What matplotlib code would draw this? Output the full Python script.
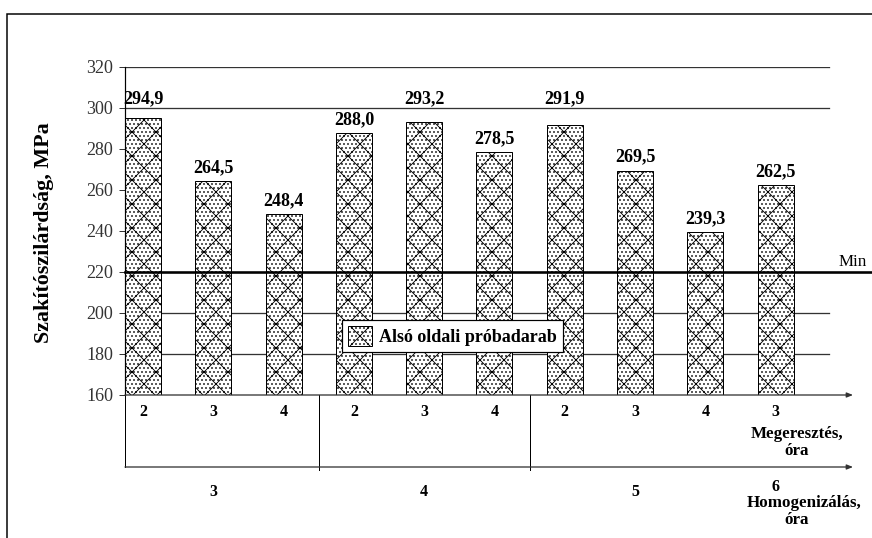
import matplotlib
matplotlib.use("Agg")
import matplotlib.pyplot as plt
from matplotlib.patches import Rectangle, Patch

# ---- data ----
megeresztes = ["2", "3", "4", "2", "3", "4", "2", "3", "4", "3"]
homogen_labels = ["3", "4", "5", "6"]
homogen_sizes = [3, 3, 3, 1]
values = [294.9, 264.5, 248.4, 288.0, 293.2, 278.5, 291.9, 269.5, 239.3, 262.5]
value_labels = ["294,9", "264,5", "248,4", "288,0", "293,2", "278,5",
                "291,9", "269,5", "239,3", "262,5"]
yticks = [160, 180, 200, 220, 240, 260, 280, 300, 320]
grid_values = [180, 200, 300, 320]
min_value = 220
legend_label = "Alsó oldali próbadarab"
ylabel = "Szakítószilárdság, MPa"

W, H, DPI = 872, 538, 72
plt.rcParams["font.family"] = ["Liberation Serif", "DejaVu Serif"]
plt.rcParams["hatch.linewidth"] = 0.9
plt.rcParams["hatch.color"] = "black"
HATCH = "x..."

fig = plt.figure(figsize=(W / DPI, H / DPI), dpi=DPI)
fig.patch.set_facecolor("white")

ax_left, ax_right, ax_top, ax_bot = 125, 872, 67, 395
ax = fig.add_axes([ax_left / W, 1 - ax_bot / H, (ax_right - ax_left) / W, (ax_bot - ax_top) / H])
ax.set_facecolor("none")

n = len(values)
x = list(range(n))
xmin, xmax = -0.256, 10.37
ax.set_xlim(xmin, xmax)
ax.set_ylim(160, 320)

grid_end = 9.76
arrow_end = 10.1

# gridlines
for g in grid_values:
    ax.plot([xmin, grid_end], [g, g], color="#333333", lw=1.3, zorder=1)

bars = ax.bar(x, values, width=0.512, color="white", edgecolor="black",
              hatch=HATCH, linewidth=1.0, zorder=2)

# min line
ax.plot([xmin, xmax], [min_value, min_value], color="black", lw=2.6, zorder=3, clip_on=False)
ax.text(9.9, min_value + 1.0, "Min", fontsize=17, ha="left", va="bottom", zorder=4)

# value labels
for xi, v, lab in zip(x, values, value_labels):
    ly = v + 6.5 if v + 6.5 < 297 else 304.5
    ax.text(xi, ly, lab, ha="center", va="center", fontsize=18, fontweight="bold", zorder=4)

# axes styling
for s in ["top", "right", "bottom"]:
    ax.spines[s].set_visible(False)
ax.spines["left"].set_linewidth(1.2)
ax.set_xticks([])
ax.set_yticks(yticks)
ax.tick_params(axis="y", length=6, width=1, colors="#333333", labelsize=18, pad=6)
for t in ax.get_yticklabels():
    t.set_color("#333333")
ax.set_ylabel(ylabel, fontsize=22, fontweight="bold")
ax.yaxis.set_label_coords(-(ax_left - 54) / (ax_right - ax_left), (ax_bot - 233) / (ax_bot - ax_top))

def yv(px):
    return 160 - (px - ax_bot) / 2.05

# bottom axis lines with arrows
for ypx in [ax_bot, 467]:
    ax.annotate("", xy=(arrow_end, yv(ypx)), xytext=(xmin, yv(ypx)),
                arrowprops=dict(arrowstyle="-|>,head_length=0.5,head_width=0.2", color="#333333",
                                lw=1.3, shrinkA=0, shrinkB=0), annotation_clip=False)

# vertical lines in bottom table
ax.plot([xmin, xmin], [160, yv(467)], color="black", lw=1.0, clip_on=False)
start = 0
bounds = []
for s in homogen_sizes:
    bounds.append((start, start + s))
    start += s
for (a, b) in bounds[:2]:
    xb = b - 0.5
    ax.plot([xb, xb], [160, yv(470)], color="black", lw=1.0, clip_on=False)

# megeresztes labels
for xi, lab in zip(x, megeresztes):
    ax.text(xi, yv(412), lab, ha="center", va="center", fontsize=16, fontweight="bold",
            clip_on=False)
ax.text(9.3, yv(434), "Megeresztés,", ha="center", va="center", fontsize=17, fontweight="bold")
ax.text(9.3, yv(451), "óra", ha="center", va="center", fontsize=17, fontweight="bold")

# homogenizalas labels
for (a, b), lab in zip(bounds, homogen_labels):
    c = (a + b - 1) / 2
    yy = yv(492) if b - a > 1 else yv(487)
    ax.text(c, yy, lab, ha="center", va="center", fontsize=16, fontweight="bold")
ax.text(9.4, yv(503), "Homogenizálás,", ha="center", va="center", fontsize=17, fontweight="bold")
ax.text(9.3, yv(520), "óra", ha="center", va="center", fontsize=17, fontweight="bold")

# legend
handle = Patch(facecolor="white", edgecolor="black", hatch=HATCH, label=legend_label)
leg = fig.legend(handles=[handle], loc="upper left",
                 bbox_to_anchor=(342 / W, 1 - 320 / H), bbox_transform=fig.transFigure,
                 frameon=True, fancybox=False, framealpha=1, edgecolor="black",
                 prop={"size": 18, "weight": "bold"}, borderaxespad=0, borderpad=0.35,
                 handlelength=1.3, handleheight=1.3, handletextpad=0.4)
leg.get_frame().set_linewidth(1.2)
leg.set_zorder(10)

# outer frame
fig.add_artist(Rectangle((7 / W, -0.1), 1.2, (H - 14) / H + 0.1, transform=fig.transFigure,
                         fill=False, edgecolor="black", lw=1.5))

fig.savefig("out.png", dpi=DPI, facecolor="white")
